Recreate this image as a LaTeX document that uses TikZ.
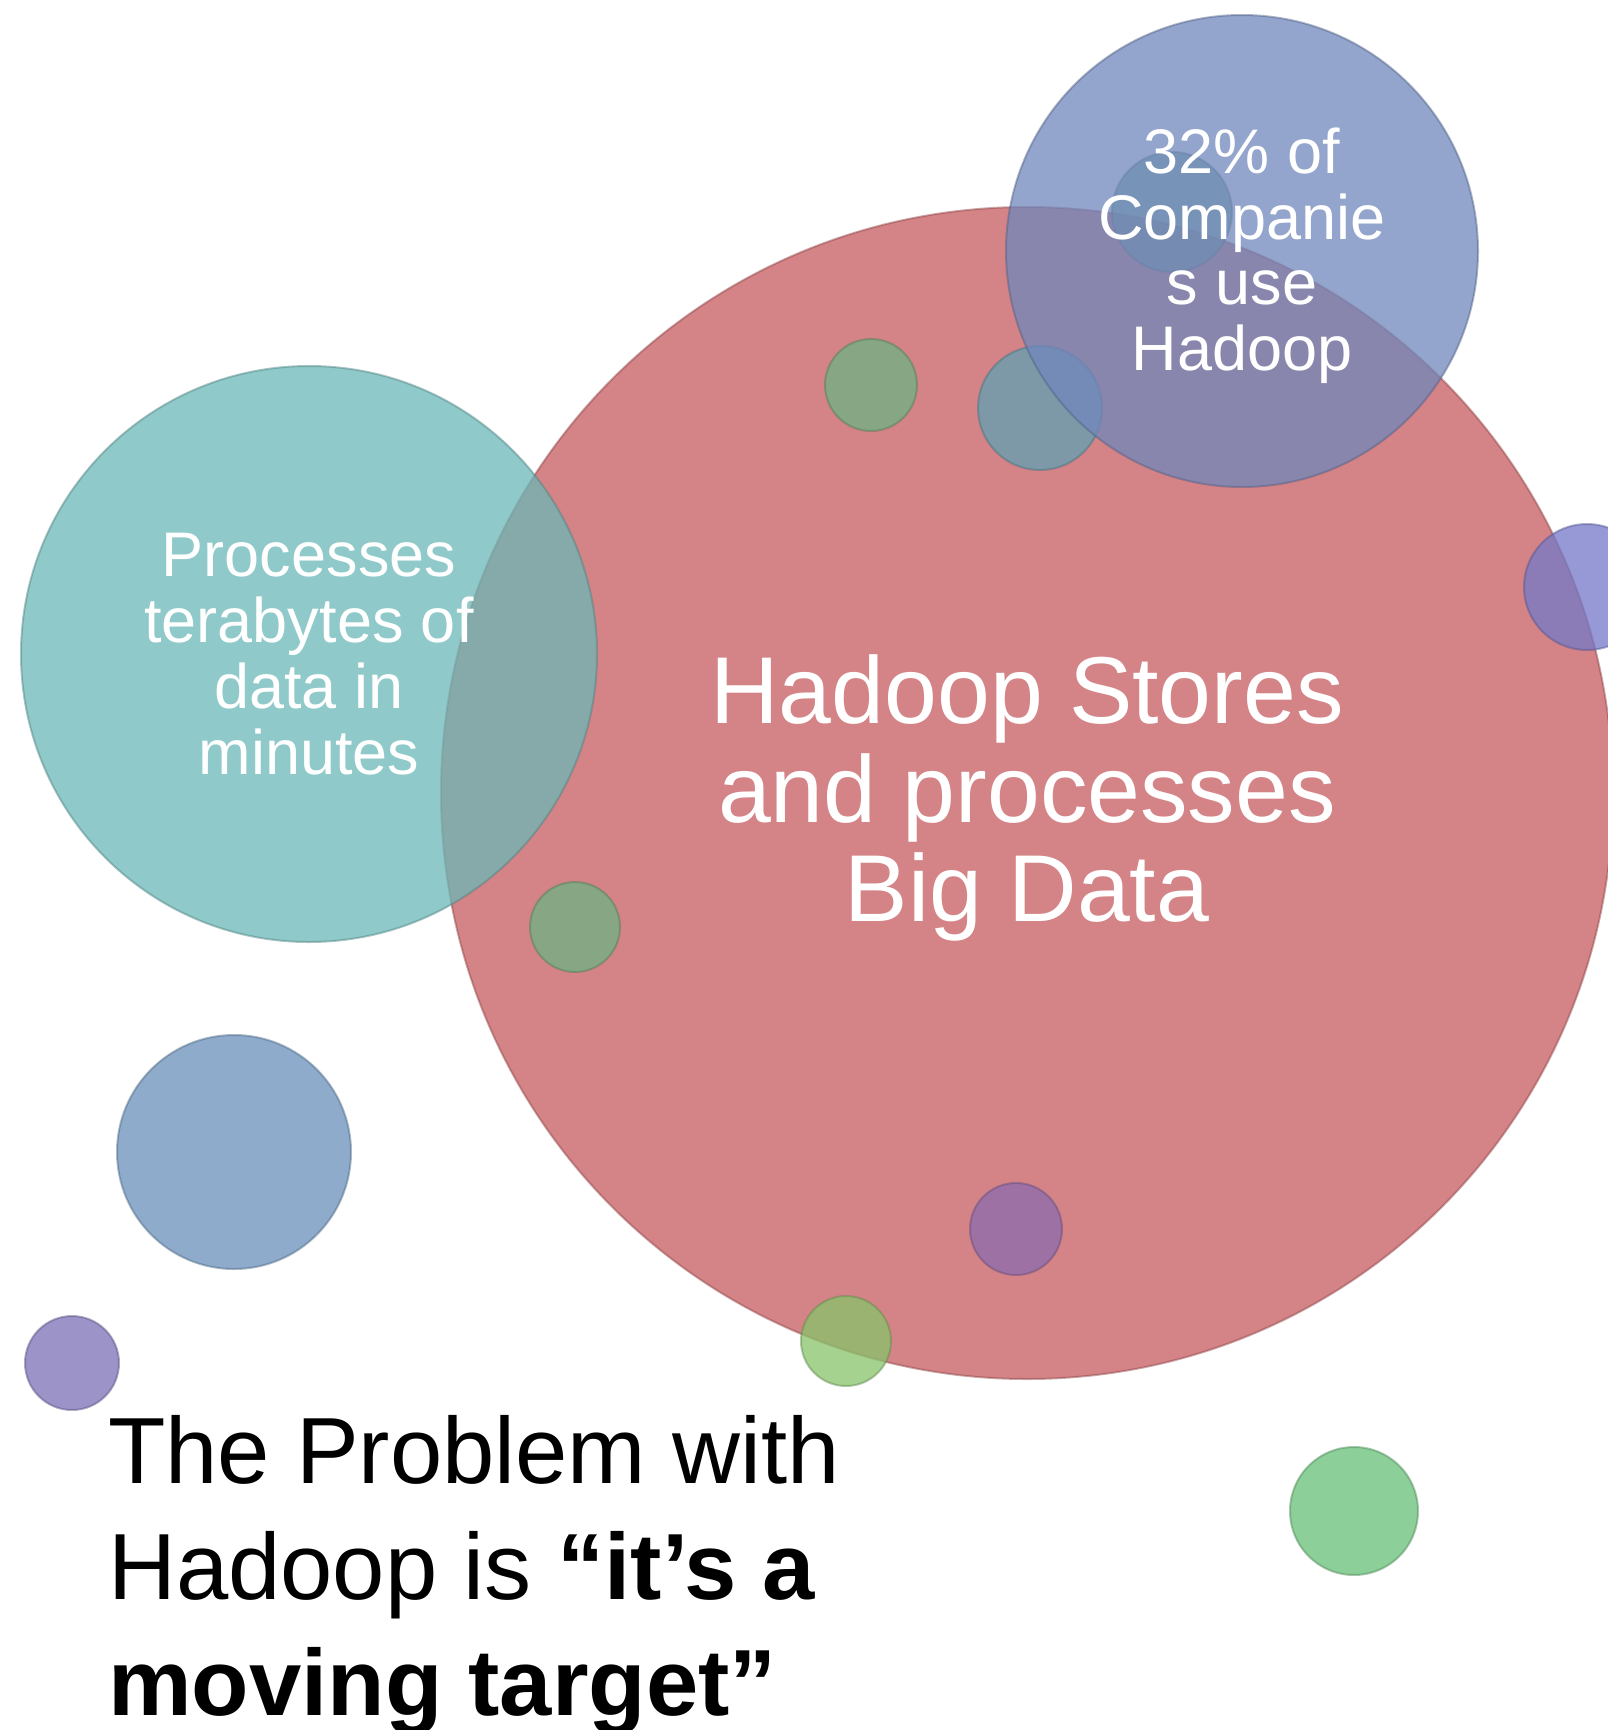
\documentclass[tikz,border=0pt]{standalone}
\usepackage{fontspec}
\setmainfont{Liberation Sans}
\definecolor{cRed}{RGB}{198,91,95}
\definecolor{cBlueTop}{RGB}{112,135,188}
\definecolor{cTeal}{RGB}{108,183,183}
\definecolor{cBlueLeft}{RGB}{106,144,186}
\definecolor{cPurpleSmall}{RGB}{123,111,182}
\definecolor{cGreen}{RGB}{104,192,120}
\definecolor{cGreenDark}{RGB}{110,178,130}
\definecolor{cYellowGreen}{RGB}{136,195,106}
\definecolor{cPurpleMid}{RGB}{140,107,175}
\definecolor{cGreyBlue}{RGB}{97,161,179}
\definecolor{cGhost}{RGB}{110,160,150}
\definecolor{cPurpleRight}{RGB}{115,120,200}
\tikzset{
  bubble/.style={fill=#1, fill opacity=0.75, draw=#1!70!black, draw opacity=0.45, line width=2pt},
  circtext/.style={text=white, align=center, inner sep=0pt, anchor=base},
}
\begin{document}
\begin{tikzpicture}[x=1pt,y=-1pt]
\useasboundingbox (0,0) rectangle (1607,1730);
\fill[white] (0,0) rectangle (1607,1730);
% big red
\path[bubble=cRed] (1027,793) circle[radius=586pt];
% teal
\path[bubble=cTeal] (309,654) circle[radius=288pt];
% small ones under the blue top circle
\path[bubble=cGhost] (1172,212) circle[radius=60pt];
\path[bubble=cGreyBlue] (1040,408) circle[radius=62pt];
% blue top
\path[bubble=cBlueTop] (1242,251) circle[radius=236pt];
% other small bubbles
\path[bubble=cGreenDark] (871,385) circle[radius=46pt];
\path[bubble=cGreenDark] (575,927) circle[radius=45pt];
\path[bubble=cPurpleMid] (1016,1229) circle[radius=46pt];
\path[bubble=cYellowGreen] (846,1341) circle[radius=45pt];
\path[bubble=cPurpleRight] (1587,587) circle[radius=63pt];
\path[bubble=cBlueLeft] (234,1152) circle[radius=117pt];
\path[bubble=cPurpleSmall] (72,1363) circle[radius=47pt];
\path[bubble=cGreen] (1354,1511) circle[radius=64pt];
% texts (anchor base = baseline of the last line)
\node[circtext, font=\fontsize{95}{99}\selectfont] (bigtext) at (1027,921)
  {Hadoop Stores\\and processes\\Big Data};
\node[circtext, font=\fontsize{63}{66}\selectfont] (tealtext) at (309,774)
  {Processes\\terabytes of\\data in\\minutes};
\node[circtext, font=\fontsize{63}{65.5}\selectfont] (bluetext) at (1242,370)
  {32\% of\\Companie\\s use\\Hadoop};
\node[align=left, inner sep=0pt, anchor=base west, font=\fontsize{94}{116}\selectfont] (title) at (108,1715)
  {The Problem with\\Hadoop is \textbf{“it’s a}\\\textbf{moving target”}};
\end{tikzpicture}
\end{document}
